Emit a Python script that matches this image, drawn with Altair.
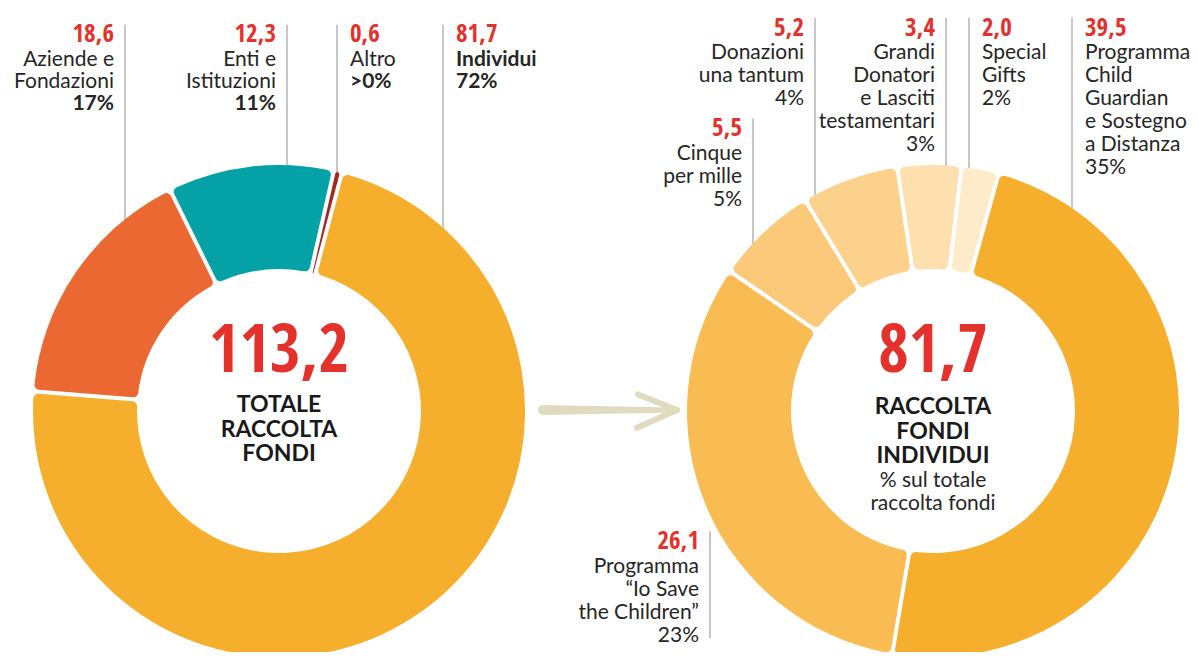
import math
import altair as alt
import pandas as pd

# ---------------- data ----------------
left_names = ["Individui", "Aziende e Fondazioni", "Enti e Istituzioni", "Altro"]
left_values = [81.7, 18.6, 12.3, 0.6]
left_pcts = ["72%", "17%", "11%", ">0%"]
left_lines = [["Individui"], ["Aziende e", "Fondazioni"], ["Enti e", "Istituzioni"], ["Altro"]]
left_colors = ["#F6AE2D", "#EB6832", "#04A1A6", "#A3281D"]

right_names = ["Programma Child Guardian e Sostegno a Distanza",
               "Programma “Io Save the Children”",
               "Cinque per mille", "Donazioni una tantum",
               "Grandi Donatori e Lasciti testamentari", "Special Gifts"]
right_values = [39.5, 26.1, 5.5, 5.2, 3.4, 2.0]
right_pcts = ["35%", "23%", "5%", "4%", "3%", "2%"]
right_lines = [["Programma", "Child", "Guardian", "e Sostegno", "a Distanza"],
               ["Programma", "“Io Save", "the Children”"],
               ["Cinque", "per mille"],
               ["Donazioni", "una tantum"],
               ["Grandi", "Donatori", "e Lasciti", "testamentari"],
               ["Special", "Gifts"]]
right_colors = ["#F6AE2D", "#F9BC53", "#FBC979", "#FCD18B", "#FDE0AD", "#FEEBCA"]

left_title = ["TOTALE", "RACCOLTA", "FONDI"]
right_title = ["RACCOLTA", "FONDI", "INDIVIDUI"]
right_subtitle = ["% sul totale", "raccolta fondi"]

# ---------------- layout ----------------
W, H, M = 1183, 644, 8
XS = alt.Scale(domain=[M, M + W], nice=False, zero=False)
YS = alt.Scale(domain=[M, M + H], reverse=True, nice=False, zero=False)
R_OUT, R_IN = 246, 142
LC, RC = (279, 420), (933, 420)
LEFT_START, RIGHT_START = 0.258, 0.27

# leader x, side of text ('L' = text left of the line), number y, line bottom mode, step
left_layout = [(443, "R", 35, "top", 22.5), (125, "L", 35, "top", 22.5),
               (287, "L", 35, "top", 22.5), (337, "R", 35, "top", 22.5)]
right_layout = [(1072, "R", 28, "top", 23.5), (710, "L", 553, "bottom", 23.5),
                (753, "L", 131, "top", 23.5), (815, "L", 28, "top", 23.5),
                (946, "L", 28, "top", 23.5), (969, "R", 28, "top", 23.5)]

RED = "#E4312B"
INK = "#262626"
NUM_FONT = "Liberation Sans Narrow, Open Sans Condensed, Roboto Condensed, Noto Sans Condensed, Roboto, sans-serif"
TXT_FONT = "Lato, Open Sans, sans-serif"
GAP1 = 26


def fmt(v):
    return f"{v:.1f}".replace(".", ",")


rows = []
rules = []


def add_labels(values, lines, pcts, layout, center, pct_style, bold_first=False):
    for i, (v, ls, p, (lx, side, ny, mode, step)) in enumerate(zip(values, lines, pcts, layout)):
        align = "right" if side == "L" else "left"
        tx = lx - 11 if side == "L" else lx + 13
        bold_name = bold_first and i == 0
        rows.append(dict(x=tx, y=ny, text=fmt(v), style="num", align=align))
        for k, t in enumerate(ls):
            rows.append(dict(x=tx, y=ny + GAP1 + k * step, text=t,
                             style="bold" if bold_name else "reg", align=align))
        rows.append(dict(x=tx, y=ny + GAP1 + len(ls) * step, text=p,
                         style="bold" if bold_name else pct_style, align=align))
        top = ny - 10
        if mode == "top":
            dx = lx - center[0]
            bottom = center[1] - math.sqrt(R_OUT ** 2 - dx ** 2) + 6
        else:
            bottom = M + H
        rules.append(dict(x=lx, y=top, y2=bottom))


add_labels(left_values, left_lines, left_pcts, left_layout, LC, "bold", bold_first=True)
add_labels(right_values, right_lines, right_pcts, right_layout, RC, "reg")

# centre texts
rows.append(dict(x=LC[0], y=360, text=fmt(sum(left_values)), style="big", align="center"))
rows.append(dict(x=RC[0], y=360, text=fmt(sum(right_values)), style="big", align="center"))
for k, t in enumerate(left_title):
    rows.append(dict(x=LC[0], y=414 + k * 25, text=t, style="cap", align="center"))
for k, t in enumerate(right_title):
    rows.append(dict(x=RC[0], y=416 + k * 25, text=t, style="cap", align="center"))
for k, t in enumerate(right_subtitle):
    rows.append(dict(x=RC[0], y=491 + k * 24, text=t, style="reg", align="center"))

tdf = pd.DataFrame(rows)

styles = {
    "num": dict(color=RED, fontSize=25, fontWeight="bold", font=NUM_FONT),
    "reg": dict(color=INK, fontSize=21, fontWeight="normal", font=TXT_FONT),
    "bold": dict(color=INK, fontSize=21, fontWeight="bold", font=TXT_FONT),
    "big": dict(color=RED, fontSize=66, fontWeight="bold", font=NUM_FONT),
    "cap": dict(color="#1A1A1A", fontSize=23, fontWeight="bold", font=TXT_FONT),
}

X = lambda f: alt.X(f, scale=XS, axis=None)
Y = lambda f: alt.Y(f, scale=YS, axis=None)

text_layers = []
for (st, al), sub in tdf.groupby(["style", "align"]):
    text_layers.append(
        alt.Chart(sub).mark_text(align=al, baseline="middle", **styles[st]).encode(
            x=X("x:Q"), y=Y("y:Q"), text="text:N"))

rule_layer = alt.Chart(pd.DataFrame(rules)).mark_rule(color="#B5B5B5", strokeWidth=1.5).encode(
    x=X("x:Q"), y=Y("y:Q"), y2="y2:Q")


def donut(names, values, colors, center, start):
    df = pd.DataFrame({"name": names, "value": values, "color": colors,
                       "ord": list(range(len(names))),
                       "cx": [center[0]] * len(names), "cy": [center[1]] * len(names)})
    return alt.Chart(df).mark_arc(outerRadius=R_OUT, innerRadius=R_IN, padAngle=0.014,
                                  cornerRadius=5).encode(
        theta=alt.Theta("value:Q", stack=True,
                        scale=alt.Scale(range=[start, start + 2 * math.pi])),
        order=alt.Order("ord:Q"),
        color=alt.Color("color:N", scale=None),
        x=X("cx:Q"), y=Y("cy:Q"),
        tooltip=["name:N", "value:Q"])


left_donut = donut(left_names, left_values, left_colors, LC, LEFT_START)
right_donut = donut(right_names, right_values, right_colors, RC, RIGHT_START)

# arrow between the donuts
ARROW = "#E0DBBE"
shaft = alt.Chart(pd.DataFrame({"x": [543, 674], "y": [419, 419], "w": [10, 5], "i": [0, 1]})).mark_trail(
    color=ARROW).encode(x=X("x:Q"), y=Y("y:Q"), size=alt.Size("w:Q", scale=None), order="i:Q")
head = alt.Chart(pd.DataFrame({"x": [638, 637], "y": [403, 437], "x2": [677, 677], "y2": [419, 419]})).mark_rule(
    color=ARROW, strokeWidth=6, strokeCap="round").encode(x=X("x:Q"), y=Y("y:Q"), x2="x2:Q", y2="y2:Q")

chart = alt.layer(rule_layer, shaft, head, left_donut, right_donut, *text_layers).resolve_scale(
    theta="independent").properties(
    width=W, height=H, padding=0,
    autosize=alt.AutoSizeParams(type="fit", contains="padding"),
    background="white").configure_view(stroke=None)

chart.save("out.html", embed_options={"renderer": "svg", "actions": False})
